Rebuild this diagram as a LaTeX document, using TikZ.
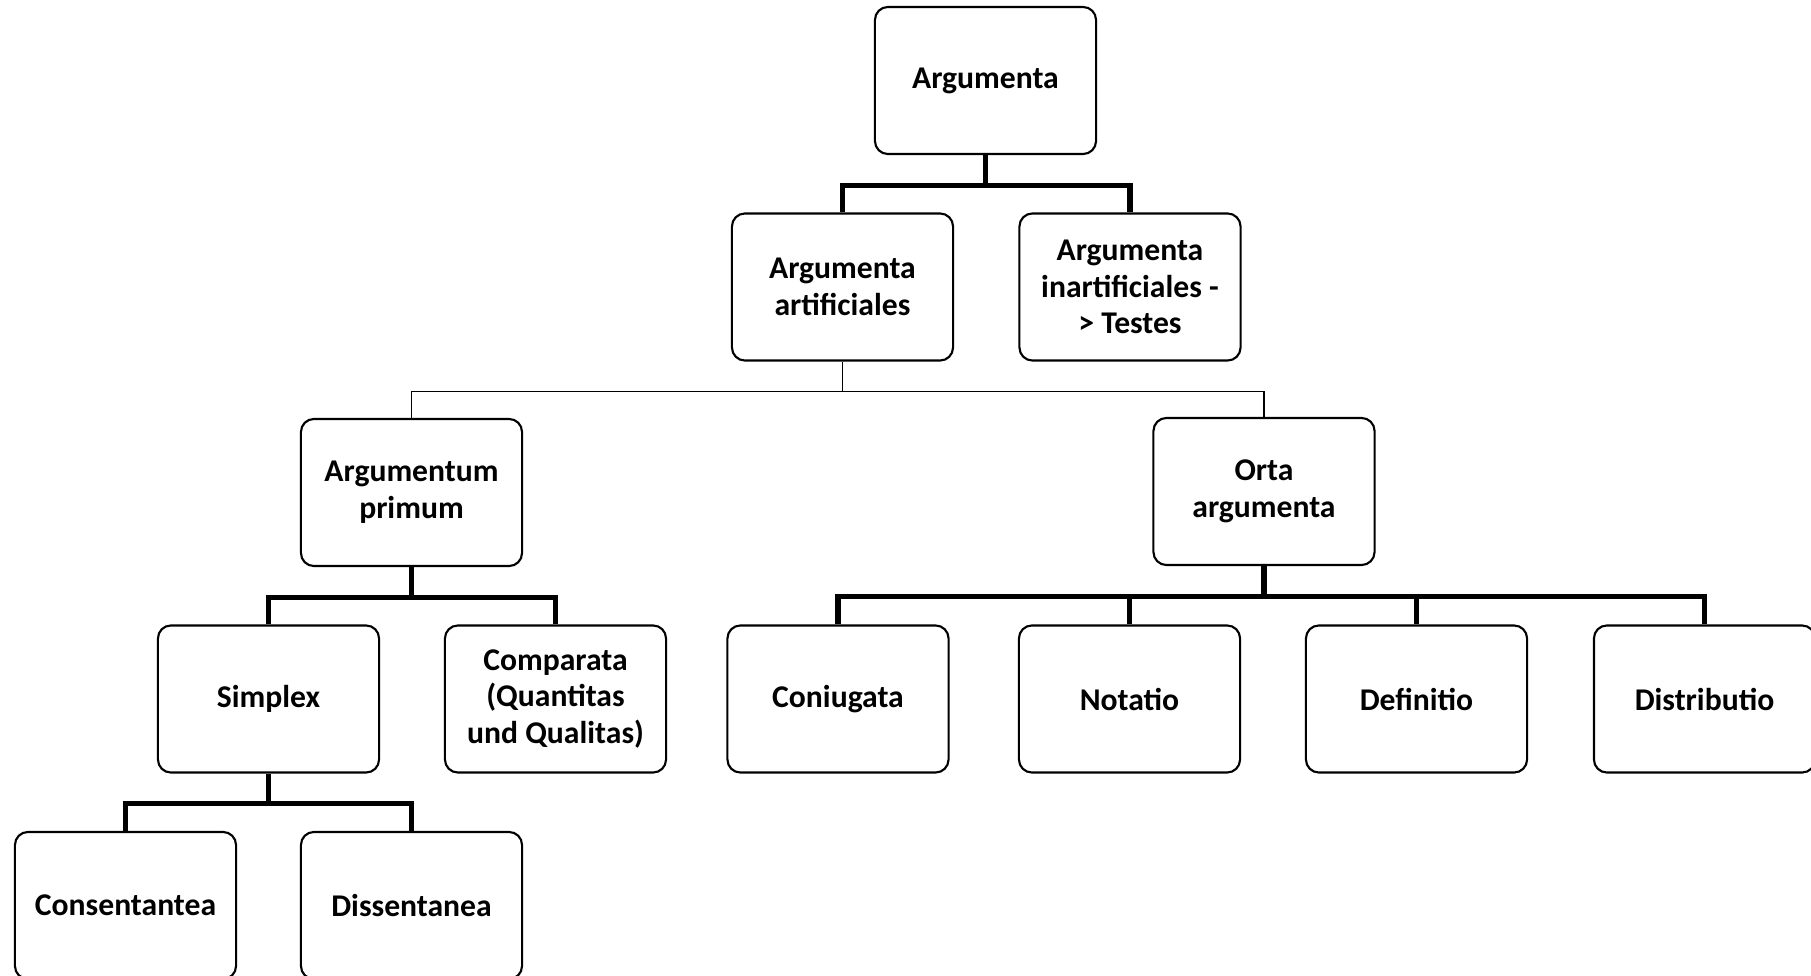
\documentclass[tikz,border=0pt]{standalone}
\usepackage{fontspec}
\setmainfont{Carlito}
\begin{document}
\begin{tikzpicture}[x=0.01cm,y=-0.01cm,
  box/.style={draw=black,line width=0.6pt,rounded corners=0.13cm,minimum width=2.21cm,minimum height=1.47cm,
    inner sep=0pt,align=center,font=\fontsize{9}{10.4}\selectfont\bfseries},
  thickc/.style={line width=1.45pt},
  thinc/.style={line width=0.5pt}]
\clip (0,0) rectangle (1811,976);
\fill[white] (0,0) rectangle (1811,976);
\node[box] (A) at (985.5,80.5) {Argumenta};
\node[box] (AA) at (842.5,287) {Argumenta\\artificiales};
\node[box] (AI) at (1130,287) {Argumenta\\inartificiales -\\> Testes};
\node[box] (AP) at (411.5,492.5) {Argumentum\\primum};
\node[box] (OA) at (1264,491.5) {Orta\\argumenta};
\node[box] (S) at (268.5,699) {Simplex};
\node[box] (C) at (555.5,699) {Comparata\\(Quantitas\\und Qualitas)};
\node[box] (Co) at (838,699) {Coniugata};
\node[box] (N) at (1129.5,699) {Notatio};
\node[box] (D) at (1416.5,699) {Definitio};
\node[box] (Di) at (1704.5,699) {Distributio};
\node[box] (Cs) at (125.5,905.5) {Consentantea};
\node[box] (Ds) at (411.5,905.5) {Dissentanea};
\foreach \p/\c in {A/AA,A/AI,AP/S,AP/C,OA/Co,OA/N,OA/D,OA/Di,S/Cs,S/Ds}
  \draw[thickc] (\p.south) -- ++(0,30) -| (\c.north);
\foreach \c in {AP,OA}
  \draw[thinc] (AA.south) -- ++(0,30) -| (\c.north);
\end{tikzpicture}
\end{document}
